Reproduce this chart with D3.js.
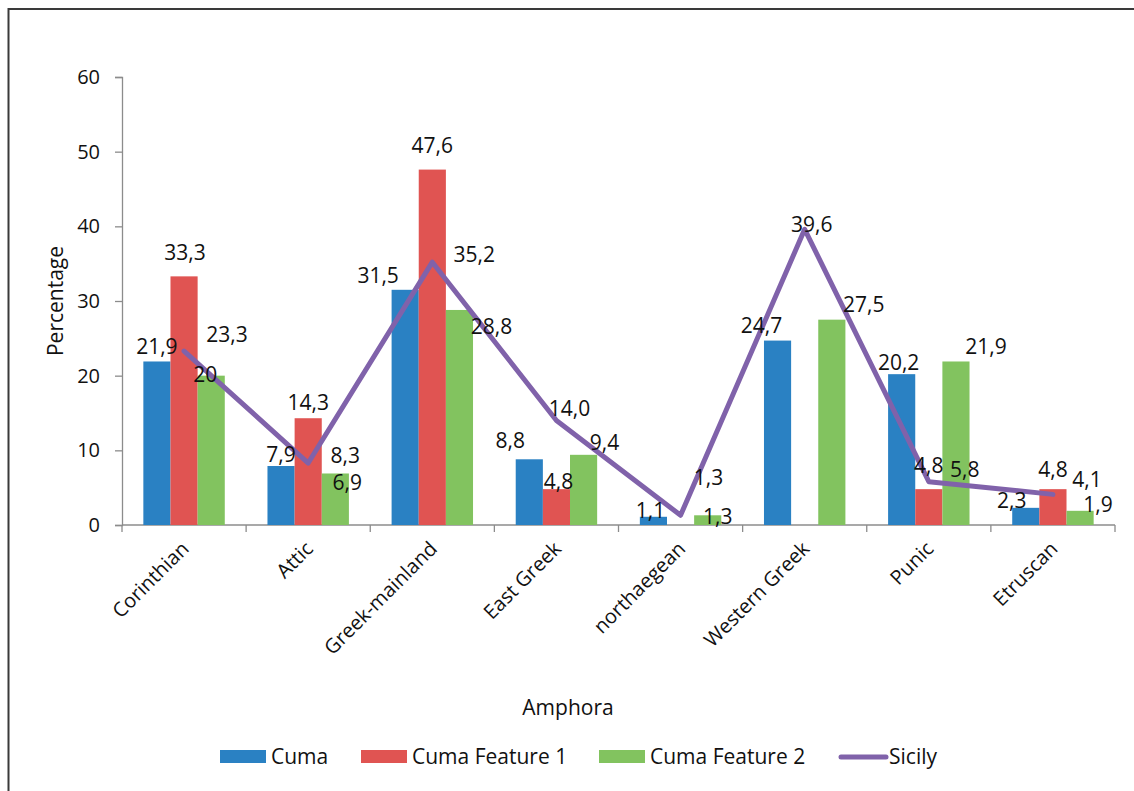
<!DOCTYPE html>
<html>
<head>
<meta charset="utf-8">
<script src="https://cdn.jsdelivr.net/npm/d3@7"></script>
<style>
  html, body { margin: 0; padding: 0; background: #fff; }
  svg text { font-family: "Open Sans", "Noto Sans", sans-serif; fill: #111; }
</style>
</head>
<body>
<svg id="chart" width="1134" height="791"></svg>
<script>
// Amphora categories and series (percentages)
const categories = ["Corinthian", "Attic", "Greek-mainland", "East Greek", "northaegean", "Western Greek", "Punic", "Etruscan"];
const cuma        = [21.9, 7.9, 31.5, 8.8, 1.1, 24.7, 20.2, 2.3];
const cumaF1      = [33.3, 14.3, 47.6, 4.8, null, null, 4.8, 4.8];
const cumaF2      = [20, 6.9, 28.8, 9.4, 1.3, 27.5, 21.9, 1.9];
const sicily      = [23.3, 8.3, 35.2, 14.0, 1.3, 39.6, 5.8, 4.1];
const labelCuma   = ["21,9", "7,9", "31,5", "8,8", "1,1", "24,7", "20,2", "2,3"];
const labelF1     = ["33,3", "14,3", "47,6", "4,8", "", "", "4,8", "4,8"];
const labelF2     = ["20", "6,9", "28,8", "9,4", "1,3", "27,5", "21,9", "1,9"];
const labelSicily = ["23,3", "8,3", "35,2", "14,0", "1,3", "39,6", "5,8", "4,1"];
const yTicks      = [0, 10, 20, 30, 40, 50, 60];

// label nudges (dx, dy) from each mark's anchor point to the text baseline centre
const offCuma   = [[0,-7],[0,-4],[-27,-7],[-19,-11],[-3,1],[-16,-8],[-3,-4],[-14,0]];
const offF1     = [[1,-16],[0,-8],[0,-17],[2,0],[0,0],[0,0],[0,-16],[0,-12]];
const offF2     = [[-6,6],[12,17],[32,24],[21,-5],[10,9],[32,-8],[30,-7],[18,1]];
const offSicily = [[43,-9],[37,0],[42,0],[13,-4],[28,-30],[7,3],[36,-5],[34,-7]];

const colors = { cuma: "#2a81c3", f1: "#e05452", f2: "#82c35f", sicily: "#8062aa" };
const axisGray = "#8c8c8c";

const svg = d3.select("#chart");
const plot = { left: 122, right: 1115, top: 77, bottom: 525 };

// outer frame
svg.append("rect")
  .attr("x", 8.5).attr("y", 9).attr("width", 1140).attr("height", 800)
  .attr("fill", "none").attr("stroke", "#3a3a3a").attr("stroke-width", 2);

const x = d3.scaleBand().domain(categories).range([plot.left, plot.right]);
const y = d3.scaleLinear().domain([0, 60]).range([plot.bottom, plot.top]);
const groupPad = 0.172;
const xs = d3.scaleBand().domain(["cuma", "f1", "f2"])
  .range([x.bandwidth() * groupPad, x.bandwidth() * (1 - groupPad)]);
const cx = c => x(c) + x.bandwidth() / 2;

// y axis
const yAxis = svg.append("g").attr("transform", `translate(${plot.left},0)`)
  .call(d3.axisLeft(y).tickValues(yTicks).tickSize(7).tickPadding(15).tickFormat(d3.format("d")));
yAxis.select(".domain").attr("stroke", axisGray).attr("stroke-width", 1.3);
yAxis.selectAll(".tick line").attr("stroke", axisGray).attr("stroke-width", 1.3);
yAxis.selectAll(".tick text").attr("font-size", 20).attr("fill", "#111")
  .style("font-family", "'Open Sans', 'Noto Sans', sans-serif");

// x axis: ticks sit on category boundaries
const xAxis = svg.append("g").attr("transform", `translate(0,${plot.bottom})`);
xAxis.append("line").attr("x1", plot.left).attr("x2", plot.right)
  .attr("stroke", axisGray).attr("stroke-width", 1.3);
const bounds = categories.map(c => x(c)).concat([plot.right]);
xAxis.selectAll("line.tk").data(bounds).join("line").attr("class", "tk")
  .attr("x1", d => d).attr("x2", d => d).attr("y1", 0).attr("y2", 7)
  .attr("stroke", axisGray).attr("stroke-width", 1.3);
xAxis.selectAll("text.cat").data(categories).join("text").attr("class", "cat")
  .attr("transform", d => `translate(${cx(d) + 6},${25}) rotate(-45)`)
  .attr("text-anchor", "end").attr("font-size", 20).text(d => d);

// bars
const series = [
  { key: "cuma", vals: cuma },
  { key: "f1", vals: cumaF1 },
  { key: "f2", vals: cumaF2 }
];
series.forEach(s => {
  svg.append("g").selectAll("rect")
    .data(categories.map((c, i) => ({ c, v: s.vals[i] })).filter(d => d.v != null))
    .join("rect")
    .attr("x", d => x(d.c) + xs(s.key))
    .attr("width", xs.bandwidth())
    .attr("y", d => y(d.v))
    .attr("height", d => y(0) - y(d.v))
    .attr("fill", colors[s.key]);
});

// Sicily line through category centres
const line = d3.line().x((d, i) => cx(categories[i])).y(d => y(d));
svg.append("path").datum(sicily).attr("d", line)
  .attr("fill", "none").attr("stroke", colors.sicily).attr("stroke-width", 5)
  .attr("stroke-linejoin", "round").attr("stroke-linecap", "round");

// data labels
function barLabels(key, vals, labels, offs) {
  svg.append("g").selectAll("text")
    .data(categories.map((c, i) => ({ c, v: vals[i], t: labels[i], o: offs[i] })).filter(d => d.v != null))
    .join("text")
    .attr("x", d => x(d.c) + xs(key) + xs.bandwidth() / 2 + d.o[0])
    .attr("y", d => y(d.v) + d.o[1])
    .attr("text-anchor", "middle").attr("font-size", 21).text(d => d.t);
}
barLabels("cuma", cuma, labelCuma, offCuma);
barLabels("f1", cumaF1, labelF1, offF1);
barLabels("f2", cumaF2, labelF2, offF2);
svg.append("g").selectAll("text")
  .data(sicily.map((v, i) => ({ c: categories[i], v, t: labelSicily[i], o: offSicily[i] })))
  .join("text")
  .attr("x", d => cx(d.c) + d.o[0])
  .attr("y", d => y(d.v) + d.o[1])
  .attr("text-anchor", "middle").attr("font-size", 21).text(d => d.t);

// axis titles
svg.append("text").attr("transform", "translate(63,301) rotate(-90)")
  .attr("text-anchor", "middle").attr("font-size", 21).text("Percentage");
svg.append("text").attr("x", 568).attr("y", 715)
  .attr("text-anchor", "middle").attr("font-size", 21).text("Amphora");

// legend
const legendItems = [
  { name: "Cuma", key: "cuma", type: "box", x: 220 },
  { name: "Cuma Feature 1", key: "f1", type: "box", x: 361 },
  { name: "Cuma Feature 2", key: "f2", type: "box", x: 599 },
  { name: "Sicily", key: "sicily", type: "line", x: 838 }
];
const lg = svg.append("g");
legendItems.forEach(it => {
  if (it.type === "box") {
    lg.append("rect").attr("x", it.x).attr("y", 750).attr("width", 46).attr("height", 13).attr("fill", colors[it.key]);
  } else {
    lg.append("line").attr("x1", it.x + 3).attr("x2", it.x + 48).attr("y1", 757).attr("y2", 757)
      .attr("stroke", colors[it.key]).attr("stroke-width", 5).attr("stroke-linecap", "round");
  }
  lg.append("text").attr("x", it.x + 51).attr("y", 764).attr("font-size", 21).text(it.name);
});
</script>
</body>
</html>
